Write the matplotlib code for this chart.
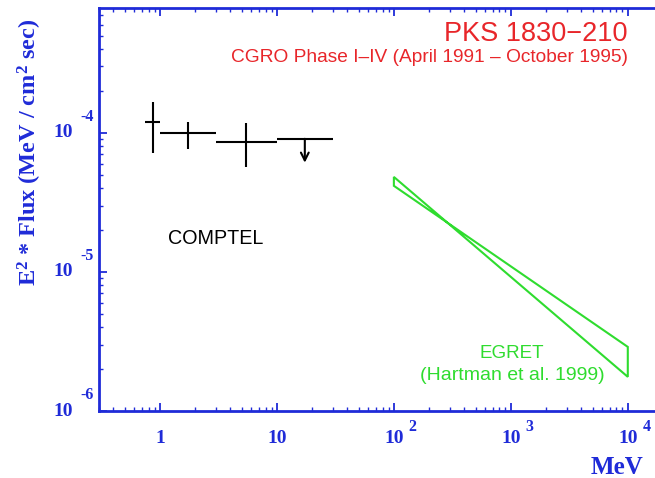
import matplotlib
matplotlib.use('Agg')
import matplotlib.pyplot as plt
import matplotlib.ticker as ticker
from matplotlib.patches import Polygon

BLUE = '#1f2bd8'
RED = '#e8262a'
GREEN = '#2fdc2f'
SERIF = 'Liberation Serif'
SANS = 'Liberation Sans'

plt.rcParams['mathtext.fontset'] = 'custom'
plt.rcParams['mathtext.rm'] = 'Liberation Serif:bold'
plt.rcParams['mathtext.it'] = 'Liberation Serif:bold'
plt.rcParams['mathtext.bf'] = 'Liberation Serif:bold'

# COMPTEL energy bins (MeV) and E^2 * flux (MeV / cm^2 s)
comptel_lo = [0.75, 1.0, 3.0, 10.0]
comptel_hi = [1.0, 3.0, 10.0, 30.0]
comptel_flux = [1.2e-4, 1.0e-4, 8.6e-5, 9.06e-5]
comptel_err_hi = [1.67e-4, 1.2e-4, 1.18e-4, None]
comptel_err_lo = [7.2e-5, 7.7e-5, 5.7e-5, None]
comptel_ul_tip = [None, None, None, 6.1e-5]  # 10-30 MeV is an upper limit

# EGRET power-law bow tie, 100 MeV - 10 GeV
egret_e = [100.0, 1e4]
egret_steep = [4.82e-5, 1.76e-6]
egret_flat = [4.16e-5, 2.89e-6]

# tick labels: mantissa text, exponent text
xtick_vals = [1, 10, 100, 1000, 10000]
xtick_base = ['1', '10', '10', '10', '10']
xtick_exp = ['', '', '2', '3', '4']
ytick_vals = [1e-6, 1e-5, 1e-4]
ytick_exp = ['-6', '-5', '-4']

fig = plt.figure(figsize=(6.55, 4.78), dpi=100)
ax = fig.add_axes([98.8 / 655, 67 / 478, 564.2 / 655, 403 / 478])
ax.set_xscale('log')
ax.set_yscale('log')
ax.set_xlim(0.3, 2e4)
ax.set_ylim(1e-6, 7.9e-4)

for side in ('left', 'bottom', 'top'):
    ax.spines[side].set_color(BLUE)
    ax.spines[side].set_linewidth(2.0)
ax.spines['right'].set_visible(False)

ax.xaxis.set_major_locator(ticker.LogLocator(base=10, numticks=10))
ax.xaxis.set_minor_locator(ticker.LogLocator(base=10, subs=range(2, 10), numticks=10))
ax.yaxis.set_major_locator(ticker.LogLocator(base=10, numticks=10))
ax.yaxis.set_minor_locator(ticker.LogLocator(base=10, subs=range(2, 10), numticks=10))
ax.tick_params(which='both', direction='in', color=BLUE, top=True, right=False,
               labelbottom=False, labelleft=False)
ax.tick_params(which='major', length=6, width=1.3)
ax.tick_params(which='minor', length=3, width=1.0)

# COMPTEL crosses
for lo, hi, f, eh, el, ul in zip(comptel_lo, comptel_hi, comptel_flux,
                                 comptel_err_hi, comptel_err_lo, comptel_ul_tip):
    xc = (lo * hi) ** 0.5
    ax.plot([lo, hi], [f, f], color='black', lw=1.5, solid_capstyle='butt')
    if ul is None:
        ax.plot([xc, xc], [el, eh], color='black', lw=1.5, solid_capstyle='butt')
    else:
        ax.annotate('', xy=(xc, ul), xytext=(xc, f),
                    arrowprops=dict(arrowstyle='->', color='black', lw=1.5,
                                    mutation_scale=14, shrinkA=0, shrinkB=0))

# EGRET bow tie
bow = Polygon([(egret_e[0], egret_steep[0]), (egret_e[1], egret_steep[1]),
               (egret_e[1], egret_flat[1]), (egret_e[0], egret_flat[0])],
              closed=True, fill=False, edgecolor=GREEN, lw=1.5)
ax.add_patch(bow)

# axis tick labels
for v, b, e in zip(xtick_vals, xtick_base, xtick_exp):
    ax.annotate(b, xy=(v, 0), xycoords=('data', 'axes fraction'), xytext=(0, -20),
                textcoords='offset points', ha='center', va='center',
                fontsize=14, fontweight='bold', family=SERIF, color=BLUE)
    if e:
        ax.annotate(e, xy=(v, 0), xycoords=('data', 'axes fraction'), xytext=(10.5, -11.5),
                    textcoords='offset points', ha='left', va='center',
                    fontsize=11.5, fontweight='bold', family=SERIF, color=BLUE)
for v, e in zip(ytick_vals, ytick_exp):
    ax.annotate('10', xy=(0, v), xycoords=('axes fraction', 'data'), xytext=(-18.5, 0),
                textcoords='offset points', ha='right', va='center',
                fontsize=14, fontweight='bold', family=SERIF, color=BLUE)
    ax.annotate(e, xy=(0, v), xycoords=('axes fraction', 'data'), xytext=(-13, 11.5),
                textcoords='offset points', ha='left', va='center',
                fontsize=11.5, fontweight='bold', family=SERIF, color=BLUE)

fig.text(30 / 655, 1 - 152 / 478, r'E$^{2}$ * Flux (MeV / cm$^{2}$ sec)', rotation=90,
         ha='center', va='center', fontsize=17.5, fontweight='bold', family=SERIF, color=BLUE)
fig.text(617 / 655, 1 - 467 / 478, 'MeV', ha='center', va='center',
         fontsize=18, fontweight='bold', family=SERIF, color=BLUE)

fig.text(627 / 655, 1 - 34 / 478, 'PKS 1830\u2212210', ha='right', va='center',
         fontsize=19.5, family=SANS, color=RED)
fig.text(628 / 655, 1 - 57 / 478, 'CGRO Phase I\u2013IV (April 1991 \u2013 October 1995)',
         ha='right', va='center', fontsize=13.8, family=SANS, color=RED)
fig.text(216 / 655, 1 - 238 / 478, 'COMPTEL', ha='center', va='center',
         fontsize=14.2, family=SANS, color='black')
fig.text(512 / 655, 1 - 353 / 478, 'EGRET', ha='center', va='center',
         fontsize=13.5, family=SANS, color=GREEN)
fig.text(512 / 655, 1 - 375 / 478, '(Hartman et al. 1999)', ha='center', va='center',
         fontsize=14, family=SANS, color=GREEN)

fig.savefig('out.png', dpi=100)
